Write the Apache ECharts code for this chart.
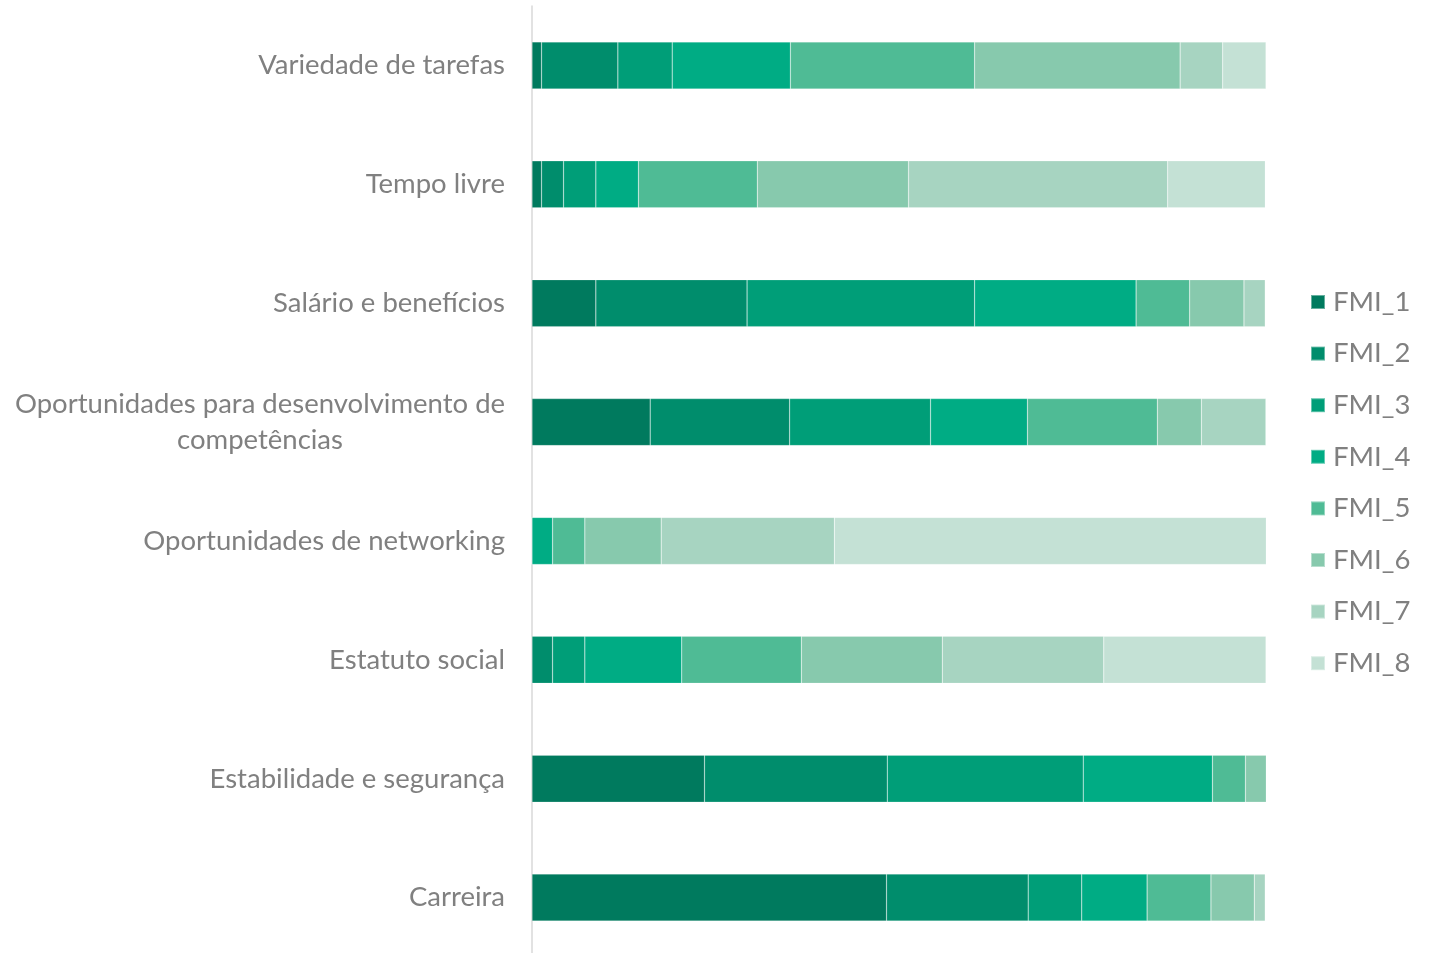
<!DOCTYPE html>
<html>
<head>
<meta charset="utf-8">
<script src="https://cdn.jsdelivr.net/npm/echarts@6/dist/echarts.min.js"></script>
<style>
  html, body { margin: 0; padding: 0; background: #fff; overflow: hidden; }
  #chart { width: 1437px; height: 960px; }
</style>
</head>
<body>
<div id="chart"></div>
<script>
// categorias (de cima para baixo)
const categories = [
  'Variedade de tarefas',
  'Tempo livre',
  'Salário e benefícios',
  'Oportunidades para desenvolvimento de\ncompetências',
  'Oportunidades de networking',
  'Estatuto social',
  'Estabilidade e segurança',
  'Carreira'
]
const seriesNames = ['FMI_1', 'FMI_2', 'FMI_3', 'FMI_4', 'FMI_5', 'FMI_6', 'FMI_7', 'FMI_8']
const colors = ['#007A5E', '#008D6C', '#009E78', '#00AC84', '#4FBB95', '#87C9AD', '#A7D4C1', '#C4E1D5']

// percentagens por categoria, na ordem acima
const fmi1 = [1.3, 1.3, 8.7, 16.1, 0, 0, 23.5, 48.3]
const fmi2 = [10.4, 3.0, 20.6, 19.0, 0, 2.8, 24.9, 19.3]
const fmi3 = [7.4, 4.4, 31.0, 19.2, 0, 4.4, 26.7, 7.3]
const fmi4 = [16.1, 5.8, 22.0, 13.2, 2.8, 13.2, 17.6, 8.9]
const fmi5 = [25.1, 16.2, 7.3, 17.7, 4.4, 16.3, 4.5, 8.7]
const fmi6 = [28.0, 20.6, 7.4, 6.0, 10.4, 19.2, 2.9, 5.9]
const fmi7 = [5.8, 35.3, 2.9, 8.8, 23.6, 22.0, 0, 1.5]
const fmi8 = [5.9, 13.3, 0, 0, 58.9, 22.1, 0, 0]
const values = [fmi1, fmi2, fmi3, fmi4, fmi5, fmi6, fmi7, fmi8]

const chart = echarts.init(document.getElementById('chart'))

const yData = categories.map(function (c) {
  if (c.indexOf('\n') >= 0) {
    // rótulo de duas linhas centrado
    return { value: c, textStyle: { align: 'center', padding: [0, 490, 0, 0] } }
  }
  return c
})

chart.setOption({
  animation: false,
  textStyle: { fontFamily: 'Lato' },
  grid: { left: 532, right: 171, top: 6, height: 951, containLabel: false },
  legend: {
    orient: 'vertical',
    left: 1305,
    top: 283,
    itemWidth: 14,
    itemHeight: 14,
    itemGap: 23.6,
    icon: 'rect',
    data: seriesNames,
    textStyle: { color: '#808080', fontSize: 27.5, lineHeight: 27.5, padding: [0, 0, 0, 3] }
  },
  xAxis: {
    type: 'value',
    min: 0,
    max: 100,
    show: false
  },
  yAxis: {
    type: 'category',
    inverse: true,
    data: yData,
    axisLine: { show: true, lineStyle: { color: '#d9d9d9', width: 1.5 } },
    axisTick: { show: false },
    axisLabel: { color: '#808080', fontSize: 27.5, margin: 27, lineHeight: 36 }
  },
  series: seriesNames.map(function (name, i) {
    return {
      name: name,
      type: 'bar',
      stack: 'total',
      barWidth: 47,
      itemStyle: { color: colors[i], borderColor: 'rgba(255,255,255,0.4)', borderWidth: 0.5 },
      data: values[i]
    }
  })
})
</script>
</body>
</html>
